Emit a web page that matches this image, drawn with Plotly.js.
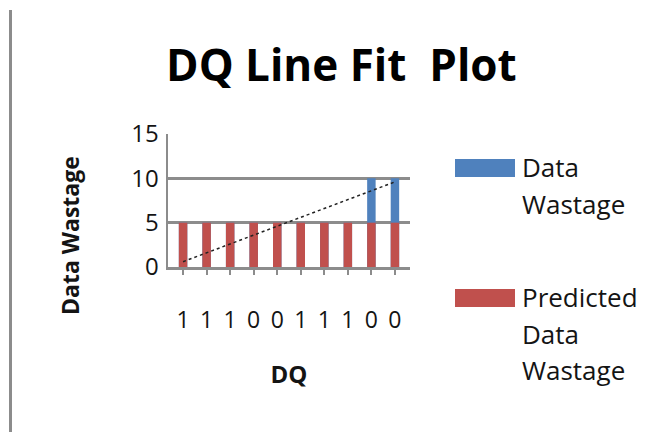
<!DOCTYPE html>
<html>
<head>
<meta charset="utf-8">
<script src="https://cdn.plot.ly/plotly-3.0.1.min.js"></script>
<style>
  html, body { margin: 0; padding: 0; background: #fff; }
  #wrap { position: relative; width: 659px; height: 432px; }
  #chart { width: 659px; height: 432px; }
  #rule { position: absolute; left: 9px; top: 10px; width: 3px; height: 422px; background: #8c8c8c; }
</style>
</head>
<body>
<div id="wrap">
  <div id="chart"></div>
  <div id="rule"></div>
</div>
<script>
// ---- data ----
var positions = [1, 2, 3, 4, 5, 6, 7, 8, 9, 10];
var dqLabels = ["1", "1", "1", "0", "0", "1", "1", "1", "0", "0"];
var dataWastage = [5, 5, 5, 5, 5, 5, 5, 5, 10, 10];
var predictedWastage = [5, 5, 5, 5, 5, 5, 5, 5, 5, 5];
var fitX = [1, 10];
var fitY = [0.6, 9.6];
var yTicks = [0, 5, 10, 15];
var seriesNames = ["Data Wastage", "Predicted Data Wastage"];
var legendLines = [["Data", "Wastage"], ["Predicted", "Data", "Wastage"]];
var seriesColors = ["#4F81BD", "#C0504D"];

var FONT = "Open Sans, Liberation Sans, sans-serif";
var TXT = "#141414";

var traces = [
  {
    type: "bar",
    name: seriesNames[0],
    x: positions,
    y: dataWastage,
    width: 0.36,
    marker: { color: seriesColors[0] },
    showlegend: false,
    hoverinfo: "y"
  },
  {
    type: "bar",
    name: seriesNames[1],
    x: positions,
    y: predictedWastage,
    width: 0.36,
    marker: { color: seriesColors[1] },
    showlegend: false,
    hoverinfo: "y"
  },
  {
    type: "scatter",
    mode: "lines",
    name: "Linear fit",
    x: fitX,
    y: fitY,
    line: { color: "#222222", width: 1.5, dash: "dot" },
    showlegend: false,
    hoverinfo: "skip"
  }
];

// ---- custom legend (paper coordinates relative to plot area) ----
var L = 168, R = 410, T = 134, B = 267;
function px2x(px) { return (px - L) / (R - L); }
function py2y(py) { return (B - py) / (B - T); }

var swatchTops = [159, 289];
var lineCenters = [[167, 204], [297, 334, 370]];
var shapes = [];
var annotations = [];
for (var i = 0; i < legendLines.length; i++) {
  shapes.push({
    type: "rect", xref: "paper", yref: "paper",
    x0: px2x(455), x1: px2x(515),
    y0: py2y(swatchTops[i] + 18), y1: py2y(swatchTops[i]),
    fillcolor: seriesColors[i], line: { width: 0 }
  });
  for (var j = 0; j < legendLines[i].length; j++) {
    annotations.push({
      xref: "paper", yref: "paper",
      x: px2x(520), y: py2y(lineCenters[i][j]),
      xanchor: "left", yanchor: "middle",
      text: legendLines[i][j], showarrow: false,
      font: { family: FONT, size: 26, color: TXT }
    });
  }
}
// y axis title placed like the original (centred lower than the plot area)
annotations.push({
  xref: "paper", yref: "paper",
  x: px2x(70), y: py2y(236),
  xanchor: "center", yanchor: "middle",
  text: "<b>Data Wastage</b>", textangle: -90, showarrow: false,
  font: { family: FONT, size: 23, color: TXT }
});

var layout = {
  width: 659,
  height: 432,
  margin: { l: L, r: 659 - R, t: T, b: 432 - B },
  paper_bgcolor: "#ffffff",
  plot_bgcolor: "#ffffff",
  barmode: "overlay",
  showlegend: false,
  font: { family: FONT, color: TXT },
  title: {
    text: "DQ Line Fit&nbsp; Plot",
    font: { family: FONT, size: 44, color: "#000", weight: "bold" },
    x: 0.518,
    xanchor: "center",
    y: 0.848,
    yanchor: "middle"
  },
  xaxis: {
    range: [0.36, 10.64],
    tickmode: "array",
    tickvals: positions,
    ticktext: dqLabels,
    tickfont: { family: FONT, size: 23, color: TXT },
    ticks: "outside",
    ticklen: 5,
    tickcolor: "#8c8c8c",
    tickwidth: 2,
    ticklabelstandoff: 26,
    showgrid: false,
    showline: true,
    linecolor: "#8c8c8c",
    linewidth: 2.5,
    zeroline: false,
    fixedrange: true,
    title: {
      text: "<b>DQ</b>",
      font: { family: FONT, size: 24, color: TXT },
      standoff: 32
    }
  },
  yaxis: {
    range: [0, 15],
    tickmode: "array",
    tickvals: yTicks,
    ticktext: yTicks.map(String),
    tickfont: { family: FONT, size: 24, color: TXT },
    ticks: "",
    ticklabelstandoff: 2,
    showgrid: true,
    gridcolor: "#8c8c8c",
    gridwidth: 2.5,
    showline: true,
    linecolor: "#8c8c8c",
    linewidth: 2.5,
    zeroline: false,
    fixedrange: true,
    title: { text: "" }
  },
  shapes: shapes,
  annotations: annotations
};

Plotly.newPlot("chart", traces, layout, { displayModeBar: false, staticPlot: true });
</script>
</body>
</html>
